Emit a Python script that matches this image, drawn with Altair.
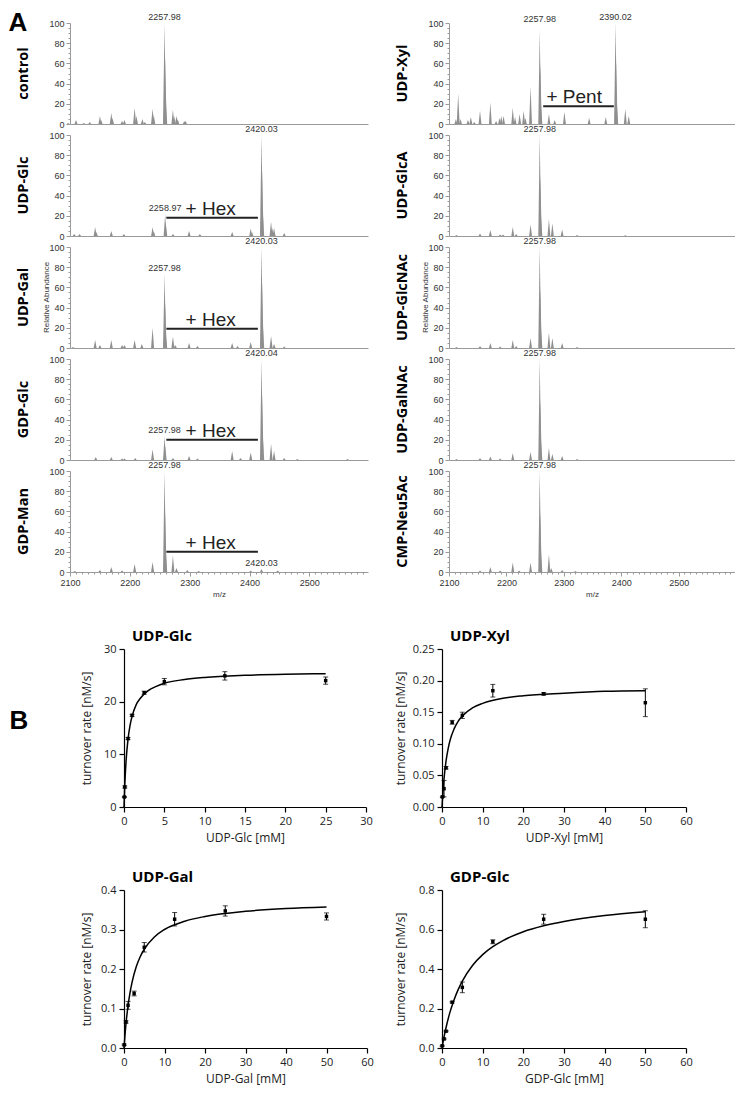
import altair as alt
import pandas as pd

# ---------------- Panel A: mass spectra (m/z, relative abundance) ----------------
left_conds = ["control", "UDP-Glc", "UDP-Gal", "GDP-Glc", "GDP-Man"]
right_conds = ["UDP-Xyl", "UDP-GlcA", "UDP-GlcNAc", "UDP-GalNAc", "CMP-Neu5Ac"]

control_mz = [2097, 2110, 2123, 2133, 2150, 2152, 2169, 2171, 2187, 2191, 2208, 2211, 2221, 2225, 2238, 2240, 2257.98, 2258.98, 2259.98, 2272, 2274, 2278, 2280, 2291, 2293]
control_h = [1, 4, 1, 2, 8, 4, 11, 6, 3, 4, 16, 8, 5, 2, 15, 9, 100, 65, 25, 14, 8, 8, 5, 3, 3]

udpglc_mz = [2107, 2116, 2142, 2144, 2169, 2190, 2238, 2240, 2258.97, 2259.97, 2272, 2299, 2317, 2371, 2402, 2404, 2420.03, 2421.03, 2422.03, 2436, 2438, 2441, 2458]
udpglc_h = [2, 2, 9, 4, 5, 2, 9, 5, 21.5, 13, 2, 5, 2, 4, 7.5, 4, 100, 65, 25, 14, 8, 8, 3]

udpgal_mz = [2105, 2142, 2150, 2169, 2187, 2191, 2208, 2220, 2238, 2257.98, 2258.98, 2259.98, 2272, 2276, 2299, 2313, 2371, 2380, 2402, 2420.03, 2421.03, 2422.03, 2436, 2441, 2458]
udpgal_h = [1, 8, 3, 8, 3, 3, 8, 4, 20, 73.5, 45, 15, 11.5, 3, 5, 2, 5, 2, 6, 100, 65, 25, 12, 4, 1.5]

gdpglc_mz = [2143, 2169, 2187, 2191, 2209, 2238, 2257.98, 2258.98, 2272, 2299, 2313, 2371, 2385, 2402, 2420.04, 2421.04, 2422.04, 2436, 2441, 2458, 2480, 2564]
gdpglc_h = [3, 3, 1.5, 1.5, 2, 10.5, 23.4, 14, 2, 4, 1.5, 9, 2, 7.5, 100, 65, 25, 16, 9, 2, 1, 1]

gdpman_mz = [2108, 2150, 2169, 2187, 2208, 2238, 2257.98, 2258.98, 2259.98, 2272, 2278, 2296, 2315, 2402, 2420.03, 2447]
gdpman_h = [1, 2, 5, 1.5, 8, 10, 100, 60, 22, 16, 4, 2, 1, 1.5, 3, 1.5]

udpxyl_mz = [2112, 2116, 2120, 2133, 2138, 2144, 2154, 2172, 2182, 2188, 2191, 2195, 2211, 2215, 2223, 2230, 2233, 2242, 2257.98, 2258.98, 2259.98, 2274, 2284, 2301, 2344, 2373, 2390.02, 2391.02, 2392.02, 2407, 2413]
udpxyl_h = [5, 30, 5, 4, 7, 2, 13, 21, 3, 6, 8, 8, 16, 7, 10, 13, 6, 37, 93, 60, 22, 10, 4, 12, 6, 7, 100, 62, 24, 15, 8]

udpglca_mz = [2113, 2154, 2172, 2189, 2194, 2211, 2217, 2242, 2257.98, 2258.98, 2259.98, 2274, 2280, 2297, 2323, 2407]
udpglca_h = [1, 2.5, 6, 1.5, 1.5, 9, 2, 11.5, 100, 60, 22, 16.5, 12.5, 6.5, 1, 0.8]

udpglcnac_mz = [2113, 2154, 2172, 2189, 2211, 2217, 2242, 2257.98, 2258.98, 2259.98, 2274, 2280, 2297, 2323]
udpglcnac_h = [1, 2, 5, 1.5, 8, 2, 10, 100, 60, 22, 15, 10, 5, 1]

udpgalnac_mz = [2113, 2154, 2172, 2189, 2211, 2242, 2257.98, 2258.98, 2259.98, 2274, 2280, 2297, 2323]
udpgalnac_h = [1, 2, 3.5, 1.5, 7, 8, 100, 60, 22, 12, 6, 4, 1]

cmpneu_mz = [2154, 2172, 2189, 2211, 2222, 2242, 2257.98, 2258.98, 2259.98, 2274, 2278, 2297, 2320]
cmpneu_h = [1.5, 5, 1.5, 9.5, 1.5, 9.5, 100, 60, 22, 17.5, 4, 2, 1]

peaks = {"control": (control_mz, control_h), "UDP-Glc": (udpglc_mz, udpglc_h),
         "UDP-Gal": (udpgal_mz, udpgal_h), "GDP-Glc": (gdpglc_mz, gdpglc_h),
         "GDP-Man": (gdpman_mz, gdpman_h), "UDP-Xyl": (udpxyl_mz, udpxyl_h),
         "UDP-GlcA": (udpglca_mz, udpglca_h), "UDP-GlcNAc": (udpglcnac_mz, udpglcnac_h),
         "UDP-GalNAc": (udpgalnac_mz, udpgalnac_h), "CMP-Neu5Ac": (cmpneu_mz, cmpneu_h)}

# peak labels: (panel, m/z, abundance, text)
peak_labels = [("control", 2257.98, 100, "2257.98"),
               ("UDP-Glc", 2420.03, 100, "2420.03"), ("UDP-Glc", 2258.97, 21.5, "2258.97"),
               ("UDP-Gal", 2420.03, 100, "2420.03"), ("UDP-Gal", 2257.98, 73.5, "2257.98"),
               ("GDP-Glc", 2420.04, 100, "2420.04"), ("GDP-Glc", 2257.98, 23.4, "2257.98"),
               ("GDP-Man", 2257.98, 100, "2257.98"), ("GDP-Man", 2420.03, 3, "2420.03"),
               ("UDP-Xyl", 2257.98, 98, "2257.98"), ("UDP-Xyl", 2390.02, 100, "2390.02"),
               ("UDP-GlcA", 2257.98, 100, "2257.98"), ("UDP-GlcNAc", 2257.98, 100, "2257.98"),
               ("UDP-GalNAc", 2257.98, 100, "2257.98"), ("CMP-Neu5Ac", 2257.98, 100, "2257.98")]

# mass-shift annotations: (panel, from m/z, to m/z, level, text centre m/z, text)
shift_anns = [("UDP-Glc", 2261, 2414, 18, 2335, "+ Hex"),
              ("UDP-Gal", 2261, 2414, 19, 2335, "+ Hex"),
              ("GDP-Glc", 2261, 2414, 20, 2335, "+ Hex"),
              ("GDP-Man", 2261, 2414, 20, 2335, "+ Hex"),
              ("UDP-Xyl", 2264, 2387, 17.5, 2318, "+ Pent")]

# ---------------- Panel B: kinetics ----------------
glc_x = [0.05, 0.1, 0.5, 1, 2.5, 5, 12.5, 25]
glc_y = [1.9, 3.8, 13.0, 17.4, 21.7, 23.8, 24.9, 24.0]
glc_e = [0.1, 0.2, 0.2, 0.2, 0.3, 0.6, 0.8, 0.7]
glc_cx = [0, 0.1, 0.25, 0.5, 0.75, 1, 1.5, 2, 3, 4, 5, 7.5, 10, 15, 20, 25]
glc_cy = [0, 4.3, 8.6, 12.9, 15.5, 17.2, 19.4, 20.6, 22.1, 22.9, 23.5, 24.2, 24.6, 25.0, 25.2, 25.3]

xyl_x = [0.1, 0.5, 1, 2.5, 5, 12.5, 25, 50]
xyl_y = [0.016, 0.029, 0.062, 0.134, 0.145, 0.184, 0.179, 0.165]
xyl_e = [0.001, 0.013, 0.002, 0.003, 0.005, 0.01, 0.002, 0.022]
xyl_cx = [0, 0.25, 0.5, 1, 1.5, 2, 3, 4, 5, 7.5, 10, 15, 20, 30, 40, 50]
xyl_cy = [0, 0.026, 0.045, 0.073, 0.092, 0.106, 0.124, 0.136, 0.144, 0.157, 0.164, 0.172, 0.176, 0.180, 0.183, 0.184]

gal_x = [0.05, 0.5, 1, 2.5, 5, 12.5, 25, 50]
gal_y = [0.008, 0.066, 0.108, 0.138, 0.255, 0.326, 0.347, 0.333]
gal_e = [0.002, 0.003, 0.01, 0.006, 0.012, 0.017, 0.013, 0.009]
gal_cx = [0, 0.25, 0.5, 1, 1.5, 2, 3, 4, 5, 7.5, 10, 15, 20, 30, 40, 50]
gal_cy = [0, 0.034, 0.063, 0.107, 0.141, 0.167, 0.205, 0.231, 0.250, 0.281, 0.300, 0.321, 0.333, 0.346, 0.353, 0.357]

gdp_x = [0.05, 0.5, 1, 2.5, 5, 12.5, 25, 50]
gdp_y = [0.011, 0.046, 0.085, 0.232, 0.307, 0.538, 0.652, 0.652]
gdp_e = [0.003, 0.004, 0.003, 0.004, 0.027, 0.01, 0.025, 0.043]
gdp_cx = [0, 0.5, 1, 2, 3, 4, 5, 7.5, 10, 12.5, 15, 20, 25, 30, 40, 50]
gdp_cy = [0, 0.056, 0.104, 0.184, 0.246, 0.297, 0.339, 0.418, 0.473, 0.513, 0.544, 0.589, 0.619, 0.641, 0.671, 0.690]

GREY = "#9a9a9a"
FONT_A = "Liberation Sans"
FONT_B = "Open Sans"
SPEC_H = 101
LEFT_W = 298
GAP_W = 81
RIGHT_W = 286


def spectrum(name, width, bottom, ra=False, letter=False):
    mz, h = peaks[name]
    pk = pd.DataFrame({"mz": mz, "h": h, "pid": list(range(len(mz)))})
    lb = pd.DataFrame([dict(mz=m, ly=ly, txt=t) for c, m, ly, t in peak_labels if c == name])
    an = pd.DataFrame([dict(x1=a, x2=b, lv=lv, tx=tx, txt=t) for c, a, b, lv, tx, t in shift_anns if c == name])

    xscale = alt.Scale(domain=[2100, 2598], nice=False, zero=False)
    yscale = alt.Scale(domain=[0, 100], nice=False)
    if bottom:
        xaxis = alt.Axis(values=list(range(2100, 2600, 10)), format="d",
                         labelExpr="datum.value % 100 === 0 ? datum.label : ''",
                         tickSize={"condition": {"test": "datum.value % 100 === 0", "value": 4}, "value": 2},
                         domainColor=GREY, tickColor=GREY, labelColor="#333", labelFont=FONT_A,
                         labelFontSize=9, labelPadding=2, labelFlush=False, labelOverlap=False, grid=False,
                         title="m/z", titleFont=FONT_A, titleFontSize=8, titleFontWeight="normal",
                         titleColor="#333", titlePadding=3)
    else:
        xaxis = alt.Axis(labels=False, ticks=False, domainColor=GREY, grid=False, title=None)
    yaxis = alt.Axis(values=list(range(0, 101, 5)), format="d",
                     labelExpr="datum.value % 20 === 0 ? datum.label : ''",
                     tickSize={"condition": {"test": "datum.value % 20 === 0", "value": 4}, "value": 2},
                     domainColor=GREY, tickColor=GREY, labelColor="#333", labelFont=FONT_A,
                     labelFontSize=9, labelPadding=2, labelOverlap=False, grid=False, title=None)

    def X(f):
        return alt.X(f, type="quantitative", scale=xscale, axis=xaxis)

    def Y(f):
        return alt.Y(f, type="quantitative", scale=yscale, axis=yaxis, stack=None)

    layers = []
    layers.append(alt.Chart(pk).transform_calculate(
        px="[datum.mz - 2.5, datum.mz, datum.mz + 2.5]", py="[0, datum.h, 0]"
    ).transform_flatten(["px", "py"]).mark_area(color="#8f8f8f", interpolate="linear").encode(
        x=X("px"), y=Y("py"), detail="pid:N"))
    if len(lb):
        layers.append(alt.Chart(lb).mark_text(
            font=FONT_A, fontSize=9, color="#333", baseline="bottom", dy=-1).encode(
            x=X("mz"), y=Y("ly"), text="txt:N"))
    if len(an):
        layers.append(alt.Chart(an).mark_rule(color="#222", strokeWidth=2).encode(
            x=X("x1"), x2="x2:Q", y=Y("lv")))
        layers.append(alt.Chart(an).mark_text(
            font=FONT_A, fontSize=19, color="#222", baseline="alphabetic", dy=-3).encode(
            x=X("tx"), y=Y("lv"), text="txt:N"))
    layers.append(alt.Chart(pd.DataFrame({"t": [name]})).mark_text(
        font=FONT_B, fontSize=14.5, fontWeight="bold", color="black", angle=270,
        align="center", baseline="middle").encode(
        x=alt.value(-46), y=alt.value(SPEC_H / 2), text="t:N"))
    if ra:
        layers.append(alt.Chart(pd.DataFrame({"t": ["Relative Abundance"]})).mark_text(
            font=FONT_A, fontSize=8, color="#333", angle=270, align="center", baseline="middle").encode(
            x=alt.value(-23), y=alt.value(SPEC_H / 2), text="t:N"))
    if letter:
        layers.append(alt.Chart(pd.DataFrame({"t": ["A"]})).mark_text(
            font=FONT_A, fontSize=26, fontWeight="bold", align="center", baseline="alphabetic",
            color="black").encode(x=alt.value(-52), y=alt.value(8), text="t:N"))
    return alt.layer(*layers).properties(width=width, height=SPEC_H)


def kin_chart(title, px, py, pe, cx, cy, xdom, xvals, ydom, yvals, yfmt, xtitle,
              cell_w, x0, w, h, ytx, letter=False):
    """cell_w: width of the grid cell; the plot itself spans x0 .. x0 + w inside it."""
    curve = pd.DataFrame({"x": cx, "y": cy})
    pts = pd.DataFrame({"x": px, "y": py,
                        "lo": [a - b for a, b in zip(py, pe)],
                        "hi": [a + b for a, b in zip(py, pe)]})
    xscale = alt.Scale(domain=xdom, range=[x0, x0 + w], nice=False, zero=False)
    yscale = alt.Scale(domain=ydom, nice=False)
    common = dict(domainColor="black", tickColor="black", domainWidth=1.2, tickWidth=1.2,
                  tickSize=5, labelColor="#222", labelFont=FONT_B, labelFontSize=11,
                  labelPadding=3, grid=False, titleFont=FONT_B, titleFontSize=12,
                  titleFontWeight="normal", titleColor="#222", labelOverlap=False)
    xaxis = alt.Axis(values=xvals, format="d", title=xtitle, labelFlush=False,
                     titlePadding=6, titleX=x0 + w / 2, **common)
    yaxis = alt.Axis(values=yvals, format=yfmt, title="turnover rate [nM/s]", offset=-x0,
                     titleX=ytx, titleY=h / 2, titleAngle=270, titleAlign="center",
                     titleBaseline="middle", **common)

    def X(f):
        return alt.X(f, type="quantitative", scale=xscale, axis=xaxis)

    def Y(f):
        return alt.Y(f, type="quantitative", scale=yscale, axis=yaxis)

    line = alt.Chart(curve).mark_line(color="black", strokeWidth=1.5, interpolate="monotone").encode(
        x=X("x"), y=Y("y"))
    bars = alt.Chart(pts).mark_rule(color="black", strokeWidth=1).encode(
        x=X("x"), y=Y("lo"), y2="hi:Q")
    caps = alt.Chart(pts).transform_fold(["lo", "hi"], as_=["end", "v"]).mark_tick(
        color="black", orient="horizontal", size=5, thickness=1).encode(x=X("x"), y=Y("v"))
    dots = alt.Chart(pts).mark_square(color="black", size=12, opacity=1).encode(
        x=X("x"), y=Y("y"))
    ttl = alt.Chart(pd.DataFrame({"t": [title]})).mark_text(
        font=FONT_B, fontSize=15, fontWeight="bold", align="left", baseline="alphabetic",
        color="black").encode(x=alt.value(x0 + 8), y=alt.value(-8), text="t:N")
    layers = [line, bars, caps, dots, ttl]
    if letter:
        layers.append(alt.Chart(pd.DataFrame({"t": ["B"]})).mark_text(
            font=FONT_A, fontSize=26, fontWeight="bold", align="center", baseline="alphabetic",
            color="black").encode(x=alt.value(x0 - 105), y=alt.value(80), text="t:N"))
    return alt.layer(*layers).properties(width=cell_w, height=h)


def blank(w, h):
    return alt.Chart(pd.DataFrame({"v": [0]})).mark_point(opacity=0, size=1).encode(
        x=alt.X("v:Q", axis=None), y=alt.Y("v:Q", axis=None)).properties(width=w, height=h)


B1_H = 158
B2_H = 158

glc = kin_chart("UDP-Glc", glc_x, glc_y, glc_e, glc_cx, glc_cy, [0, 30], [0, 5, 10, 15, 20, 25, 30],
                [0, 30], [0, 10, 20, 30], "d", "UDP-Glc [mM]", LEFT_W, 54, 242, B1_H, -38, letter=True)
xyl = kin_chart("UDP-Xyl", xyl_x, xyl_y, xyl_e, xyl_cx, xyl_cy, [0, 60], [0, 10, 20, 30, 40, 50, 60],
                [0, 0.25], [0, 0.05, 0.10, 0.15, 0.20, 0.25], ".2f", "UDP-Xyl [mM]", RIGHT_W, -7, 244, B1_H, -42)
gal = kin_chart("UDP-Gal", gal_x, gal_y, gal_e, gal_cx, gal_cy, [0, 60], [0, 10, 20, 30, 40, 50, 60],
                [0, 0.4], [0, 0.1, 0.2, 0.3, 0.4], ".1f", "UDP-Gal [mM]", LEFT_W, 54, 243, B2_H, -38)
gdp = kin_chart("GDP-Glc", gdp_x, gdp_y, gdp_e, gdp_cx, gdp_cy, [0, 60], [0, 10, 20, 30, 40, 50, 60],
                [0, 0.8], [0, 0.2, 0.4, 0.6, 0.8], ".1f", "GDP-Glc [mM]", RIGHT_W, -7, 244, B2_H, -42)

items = []
for i in range(5):
    items += [spectrum(left_conds[i], LEFT_W, i == 4, ra=(i == 2), letter=(i == 0)),
              blank(GAP_W, SPEC_H),
              spectrum(right_conds[i], RIGHT_W, i == 4, ra=(i == 2))]
items += [blank(1, 55) for _ in range(3)]
items += [glc, blank(GAP_W, B1_H), xyl]
items += [blank(1, 61) for _ in range(3)]
items += [gal, blank(GAP_W, B2_H), gdp]

chart = alt.concat(*items, columns=3, spacing={"row": 11, "column": 0}, bounds="flush").properties(
    padding={"left": 0, "top": 2, "right": 0, "bottom": 5}
).configure(background="white").configure_view(stroke=None)

chart.save("out.html", embed_options={"renderer": "svg", "actions": False})
